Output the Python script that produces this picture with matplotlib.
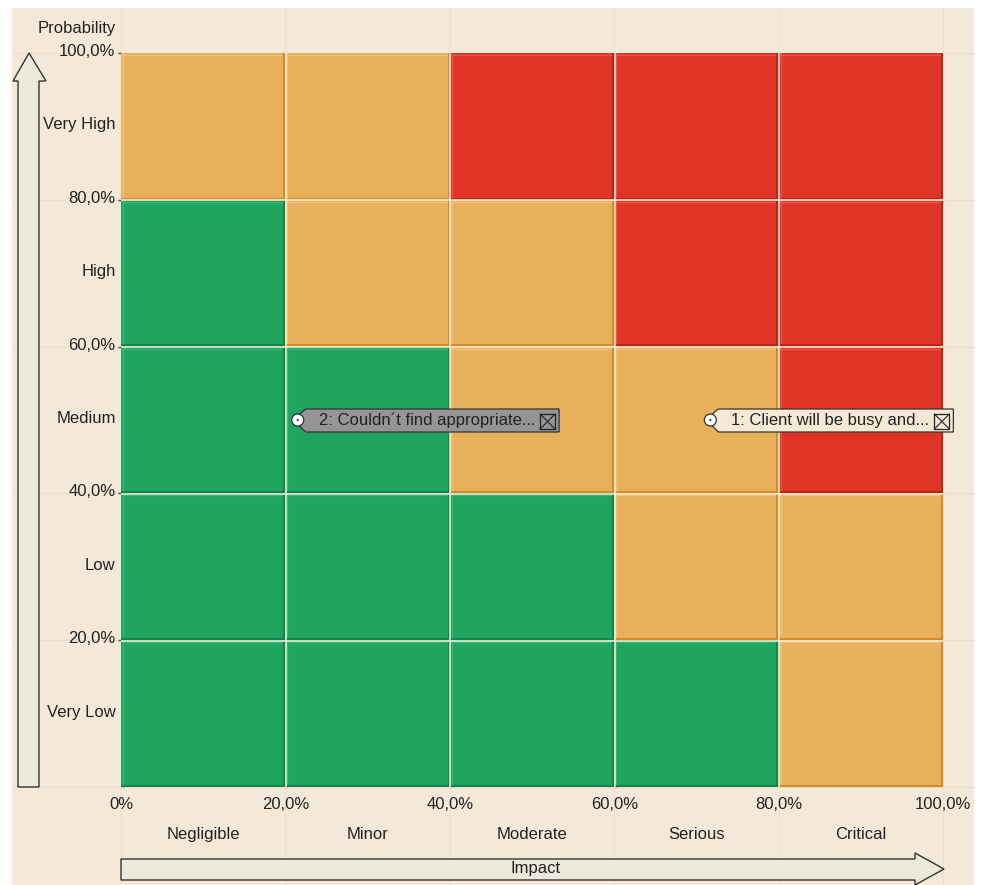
import matplotlib
matplotlib.use("Agg")
import matplotlib.pyplot as plt
import matplotlib.transforms as mtransforms
from matplotlib.patches import Rectangle, Polygon, Circle

plt.rcParams['font.family'] = ['Liberation Sans', 'DejaVu Sans']

# ---- data -------------------------------------------------------------
impact_levels = ["Negligible", "Minor", "Moderate", "Serious", "Critical"]
probability_levels = ["Very Low", "Low", "Medium", "High", "Very High"]
boundaries = [0, 20, 40, 60, 80, 100]
x_tick_labels = ["0%", "20,0%", "40,0%", "60,0%", "80,0%", "100,0%"]
y_tick_values = [20, 40, 60, 80, 100]
y_tick_labels = ["20,0%", "40,0%", "60,0%", "80,0%", "100,0%"]

# risk level of each cell, rows from "Very Low" up to "Very High"
risk_grid = [
    ["low", "low", "low", "low", "mid"],
    ["low", "low", "low", "mid", "mid"],
    ["low", "low", "mid", "mid", "high"],
    ["low", "mid", "mid", "high", "high"],
    ["mid", "mid", "high", "high", "high"],
]

risk_labels = ["2: Couldn\u00b4t find appropriate...", "1: Client will be busy and..."]
risk_impact = [21.5, 71.7]
risk_probability = [50.0, 50.0]

# ---- styles -------------------------------------------------------------
W, H = 983, 885
BG = "#F4E9D8"
TXT = "#222222"
FILL = {"low": "#1FA55F", "mid": "#E8B05A", "high": "#E03426"}
DARK = {"low": "#168549", "mid": "#D38C2C", "high": "#B9261A"}
LIGHT = {"low": "#35B472", "mid": "#EEC27D", "high": "#E9574A"}
TAG_FILL = ["#959595", "#F5E9D6"]
FS = 12

fig = plt.figure(figsize=(W / 100, H / 100), dpi=100, facecolor="white")


def P(x, y):
    """pixel position (origin top-left) -> figure fraction"""
    return (x / W, 1 - y / H)


# panel background
fig.patches.append(Rectangle(P(12, H), (974 - 12) / W, (H - 8) / H,
                             transform=fig.transFigure, facecolor=BG,
                             edgecolor="none", zorder=-10))

ax = fig.add_axes([121 / W, 1 - 787 / H, 822 / W, 734 / H])
ax.set_xlim(0, 100)
ax.set_ylim(0, 100)
ax.set_facecolor("none")
for s in ax.spines.values():
    s.set_visible(False)

# faint background grid lines
vx = mtransforms.blended_transform_factory(ax.transData, fig.transFigure)
hy = mtransforms.blended_transform_factory(fig.transFigure, ax.transData)
for b in boundaries:
    ax.plot([b, b], [0, 1 - 8 / H], transform=vx, color="#ECE0CB", lw=0.8,
            zorder=0, clip_on=False)
    ax.plot([12 / W, 974 / W], [b, b], transform=hy, color="#ECE0CB", lw=0.8,
            zorder=0, clip_on=False)


def off(dx, dy):
    return mtransforms.offset_copy(ax.transData, fig=fig, x=dx, y=dy, units="dots")


# risk cells
for r, row in enumerate(risk_grid):
    for c, level in enumerate(row):
        x0, x1 = boundaries[c], boundaries[c + 1]
        y0, y1 = boundaries[r], boundaries[r + 1]
        ax.add_patch(Rectangle((x0, y0), x1 - x0, y1 - y0, facecolor=FILL[level],
                               edgecolor="none", zorder=2))
        # bevel: light top/left, dark bottom/right
        ax.plot([x0, x0], [y0, y1], transform=off(2, 0), color=LIGHT[level],
                lw=1.0, zorder=3, clip_on=False, solid_capstyle="butt")
        ax.plot([x0, x1], [y1, y1], transform=off(0, -2), color=LIGHT[level],
                lw=1.0, zorder=3, clip_on=False, solid_capstyle="butt")
        ax.plot([x1, x1], [y0, y1], transform=off(-1.2, 0), color=DARK[level],
                lw=1.5, zorder=4, clip_on=False, solid_capstyle="butt")
        ax.plot([x0, x1], [y0, y0], transform=off(0, 1.2), color=DARK[level],
                lw=1.5, zorder=4, clip_on=False, solid_capstyle="butt")

# cream separators between cells
for b in boundaries[1:-1]:
    ax.plot([b, b], [0, 100], transform=off(0.6, 0), color="#FBF1DF", lw=1.1,
            zorder=5, solid_capstyle="butt")
    ax.plot([0, 100], [b, b], transform=off(0, -0.6), color="#FBF1DF", lw=1.1,
            zorder=5, solid_capstyle="butt")

# ticks and labels
ax.set_xticks(boundaries)
ax.set_xticklabels(x_tick_labels)
ax.set_xticks([b + 10 for b in boundaries[:-1]], minor=True)
ax.set_xticklabels(impact_levels, minor=True)
ax.set_yticks(y_tick_values)
ax.set_yticklabels(y_tick_labels)
ax.set_yticks([b + 10 for b in boundaries[:-1]], minor=True)
ax.set_yticklabels(probability_levels, minor=True)
ax.tick_params(axis="both", which="both", length=0, labelsize=FS, labelcolor=TXT)
ax.tick_params(axis="x", which="major", pad=7)
ax.tick_params(axis="x", which="minor", pad=28.5)
ax.tick_params(axis="y", which="major", length=2.5, width=1.0, color="#4A4A4A", pad=1.4)
ax.tick_params(axis="y", which="minor", pad=3.8)
lift = mtransforms.ScaledTranslation(0, 3 / 100, fig.dpi_scale_trans)
for lab in ax.get_yticklabels(which="both"):
    lab.set_transform(lab.get_transform() + lift)

# axis arrows
arrow_kw = dict(transform=fig.transFigure, facecolor="#ECE8DA", edgecolor="#333333",
                lw=1.0, zorder=1)
v_arrow = [P(18, 787), P(39, 787), P(39, 81), P(46, 81), P(29, 53), P(13, 81),
           P(18, 81)]
fig.patches.append(Polygon(v_arrow, closed=True, **arrow_kw))
h_arrow = [P(121, 859), P(915, 859), P(915, 853), P(944, 869), P(915, 885),
           P(915, 880), P(121, 880)]
fig.patches.append(Polygon(h_arrow, closed=True, **arrow_kw))
fig.text(*P(116, 28), "Probability", ha="right", va="center", fontsize=FS, color=TXT)
fig.text(*P(536, 869), "Impact", ha="center", va="center", fontsize=FS, color=TXT)

# risk markers with tag labels
renderer = fig.canvas.get_renderer()
for i, (label, xv, yv) in enumerate(zip(risk_labels, risk_impact, risk_probability)):
    t = ax.text(xv, yv, label, transform=off(21, 0), ha="left", va="center",
                fontsize=FS, color=TXT, zorder=12)
    bb = t.get_window_extent(renderer)
    x_anchor = ax.transData.transform((xv, yv))[0]
    text_end = bb.x1 - x_anchor
    box_l = text_end + 5
    box_r = box_l + 15
    tag_r = box_r + 4
    tr = fig.dpi_scale_trans + mtransforms.ScaledTranslation(xv, yv, ax.transData)
    k = 1 / 100
    tag = [(2 * k, 6 * k), (8 * k, 11 * k), (tag_r * k, 11 * k), (tag_r * k, -12 * k),
           (8 * k, -12 * k), (2 * k, -6 * k)]
    ax.add_patch(Polygon(tag, closed=True, transform=tr, facecolor=TAG_FILL[i],
                         edgecolor="#333333", lw=0.9, zorder=10, clip_on=False))
    # small box with a cross
    bx = [(box_l * k, 6 * k), (box_r * k, 6 * k), (box_r * k, -9 * k), (box_l * k, -9 * k)]
    ax.add_patch(Polygon(bx, closed=True, transform=tr, facecolor="none",
                         edgecolor="#222222", lw=0.9, zorder=11, clip_on=False))
    ax.plot([box_l * k, box_r * k], [6 * k, -9 * k], transform=tr, color="#222222",
            lw=0.8, zorder=11, clip_on=False)
    ax.plot([box_l * k, box_r * k], [-9 * k, 6 * k], transform=tr, color="#222222",
            lw=0.8, zorder=11, clip_on=False)
    ax.add_patch(Circle((0, 0), 6 * k, transform=tr, facecolor="white",
                        edgecolor="#333333", lw=0.9, zorder=13, clip_on=False))
    ax.add_patch(Circle((0, 0), 1 * k, transform=tr, facecolor="#222222",
                        edgecolor="none", zorder=14, clip_on=False))

fig.savefig("out.png", dpi=100, facecolor="white")
